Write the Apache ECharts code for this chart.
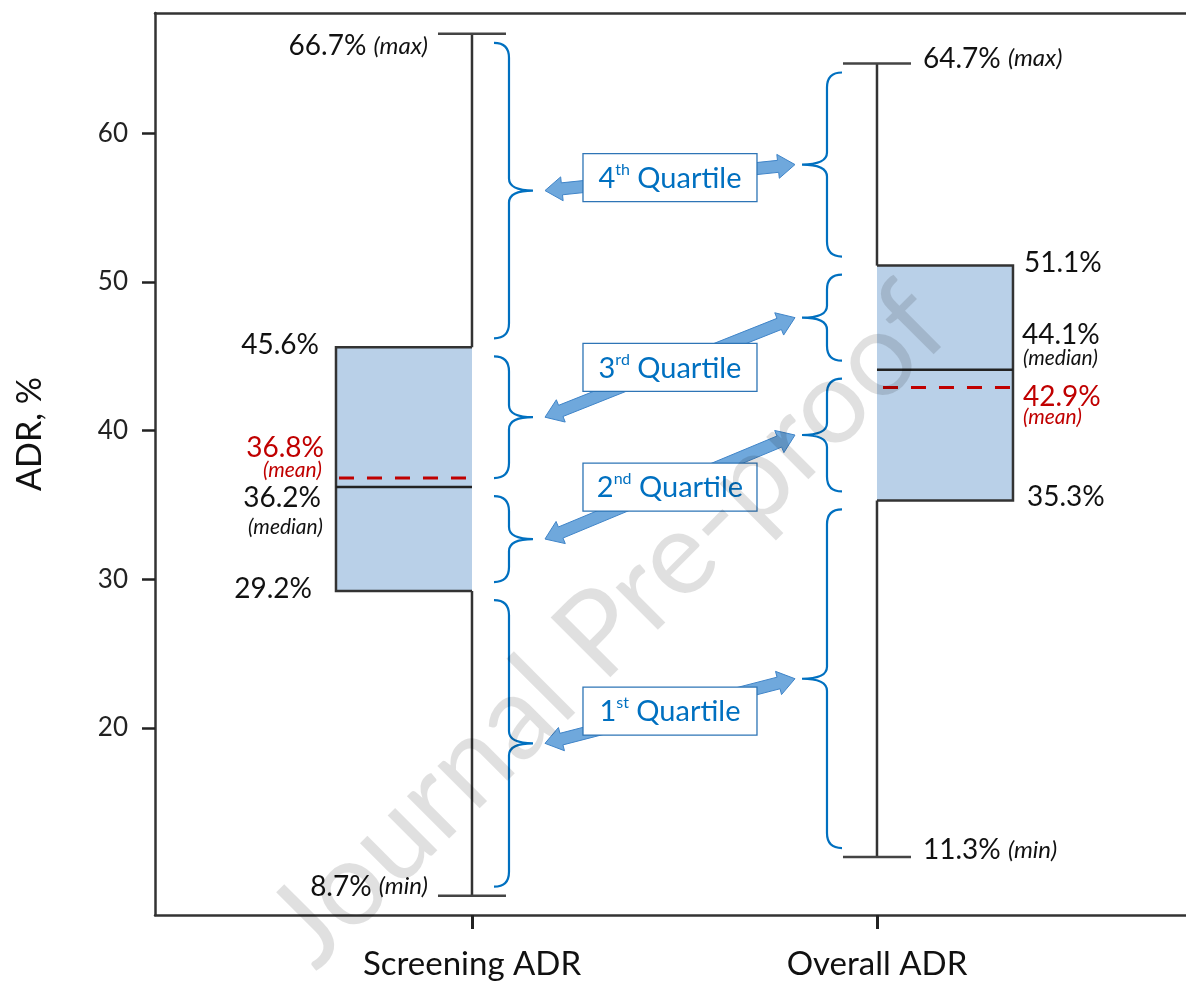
<!DOCTYPE html>
<html>
<head>
<meta charset="utf-8">
<title>ADR box plot</title>
<script src="https://cdn.jsdelivr.net/npm/echarts@6/dist/echarts.min.js"></script>
<style>
  html, body { margin: 0; padding: 0; background: #fff; }
  #chart { width: 1186px; height: 981px; }
</style>
</head>
<body>
<div id="chart"></div>
<script>
const categories = ['Screening ADR', 'Overall ADR'];
const minValues = [8.7, 11.3];
const q1Values = [29.2, 35.3];
const medianValues = [36.2, 44.1];
const q3Values = [45.6, 51.1];
const maxValues = [66.7, 64.7];
const meanValues = [36.8, 42.9];
const quartileNumbers = ['1', '2', '3', '4'];
const quartileSuffixes = ['st', 'nd', 'rd', 'th'];
const yTicks = [20, 30, 40, 50, 60];

const FONT = 'Lato, "Open Sans", sans-serif';
const BLUE = '#0070c0';
const RED = '#c00000';
const INK = '#111';
const pct = v => v.toFixed(1) + '%';

// [x, min, q1, median, q3, max, mean]
const boxData = categories.map((c, i) => [
    i + 1, minValues[i], q1Values[i], medianValues[i], q3Values[i], maxValues[i], meanValues[i]
]);

// [x, screening low, screening high, overall low, overall high, quartile index]
const bounds = i => [minValues[i], q1Values[i], medianValues[i], q3Values[i], maxValues[i]];
const quartileData = quartileNumbers.map((n, k) => [
    1.5, bounds(0)[k], bounds(0)[k + 1], bounds(1)[k], bounds(1)[k + 1], k
]);

function text(x, y, str, align, size, color, italic) {
    return {
        type: 'text', x: x, y: y,
        style: {
            text: str, fill: color || INK, fontSize: size, fontFamily: FONT,
            fontStyle: italic ? 'italic' : 'normal', align: align, verticalAlign: 'middle'
        }
    };
}

function extremeLabel(x, y, v, word, align) {
    return {
        type: 'text', x: x, y: y,
        style: {
            text: '{v|' + pct(v) + ' }{i|(' + word + ')}',
            align: align, verticalAlign: 'middle',
            rich: {
                v: { fontSize: 28, fontFamily: FONT, fill: INK },
                i: { fontSize: 24, fontFamily: FONT, fontStyle: 'italic', fill: INK }
            }
        }
    };
}

function renderBox(params, api) {
    const side = params.dataIndex === 0 ? -1 : 1;
    const x = api.value(0);
    const cx = api.coord([x, 0])[0];
    const y = idx => api.coord([x, api.value(idx)])[1];
    const yMin = y(1), yQ1 = y(2), yMed = y(3), yQ3 = y(4), yMax = y(5), yMean = y(6);
    const w = 136, cap = 34;
    const far = cx + side * w;
    const line = { stroke: '#333', lineWidth: 2.5, fill: 'none' };
    const seg = (x1, y1, x2, y2, st) => ({
        type: 'line', shape: { x1: x1, y1: y1, x2: x2, y2: y2 }, style: st || line
    });

    const children = [
        { type: 'rect', shape: { x: Math.min(cx, far), y: yQ3, width: w, height: yQ1 - yQ3 },
          style: { fill: '#b9d0e8', stroke: 'none' } },
        { type: 'polyline', shape: { points: [[cx, yQ3], [far, yQ3], [far, yQ1], [cx, yQ1]] },
          style: line },
        seg(cx, yMax, cx, yQ3),
        seg(cx, yQ1, cx, yMin),
        seg(cx - cap, yMax, cx + cap, yMax, { stroke: '#444', lineWidth: 2.5 }),
        seg(cx - cap, yMin, cx + cap, yMin, { stroke: '#444', lineWidth: 2.5 }),
        seg(far, yMed, cx, yMed, { stroke: '#222', lineWidth: 2.5 }),
        seg(far - side * 3, yMean, cx + side * 3, yMean,
            { stroke: RED, lineWidth: 3, lineDash: [15, 13] })
    ];

    if (side < 0) {
        children.push(
            extremeLabel(cx - 44, yMax + 12, api.value(5), 'max', 'right'),
            extremeLabel(cx - 44, yMin - 9, api.value(1), 'min', 'right'),
            text(far - 17, yQ3 - 2, pct(api.value(4)), 'right', 28),
            text(far - 12, yMean - 30, pct(api.value(6)), 'right', 28, RED),
            text(far - 14, yMean - 8, '(mean)', 'right', 21, RED, true),
            text(far - 15, yMed + 11, pct(api.value(3)), 'right', 28),
            text(far - 13, yMed + 40, '(median)', 'right', 21, INK, true),
            text(far - 24, yQ1 - 2, pct(api.value(2)), 'right', 28)
        );
    } else {
        children.push(
            extremeLabel(cx + 46, yMax - 5, api.value(5), 'max', 'left'),
            extremeLabel(cx + 46, yMin - 7, api.value(1), 'min', 'left'),
            text(far + 11, yQ3 - 3, pct(api.value(4)), 'left', 28),
            text(far + 9, yMed - 35, pct(api.value(3)), 'left', 28),
            text(far + 10, yMed - 11, '(median)', 'left', 21, INK, true),
            text(far + 10, yMean + 9, pct(api.value(6)), 'left', 28, RED),
            text(far + 10, yMean + 30, '(mean)', 'left', 21, RED, true),
            text(far + 14, yQ1 - 3, pct(api.value(2)), 'left', 28)
        );
    }
    return { type: 'group', children: children };
}

function bracePath(hx, vx, tx, y1, y2) {
    const ym = (y1 + y2) / 2;
    const r = Math.min(15, (y2 - y1) / 4);
    const r2 = Math.min(12, (y2 - y1) / 4);
    return 'M' + hx + ',' + y1 +
        ' Q' + vx + ',' + y1 + ' ' + vx + ',' + (y1 + r) +
        ' L' + vx + ',' + (ym - r2) +
        ' Q' + vx + ',' + ym + ' ' + tx + ',' + ym +
        ' Q' + vx + ',' + ym + ' ' + vx + ',' + (ym + r2) +
        ' L' + vx + ',' + (y2 - r) +
        ' Q' + vx + ',' + y2 + ' ' + hx + ',' + y2;
}

function arrowPoints(p1, p2) {
    const dx = p2[0] - p1[0], dy = p2[1] - p1[1];
    const len = Math.sqrt(dx * dx + dy * dy);
    const ux = dx / len, uy = dy / len, nx = -uy, ny = ux;
    const a = 6, b = 12, h = 17;
    const at = (p, s, t) => [p[0] + ux * s + nx * t, p[1] + uy * s + ny * t];
    return [
        p1, at(p1, h, b), at(p1, h, a), at(p2, -h, a), at(p2, -h, b),
        p2, at(p2, -h, -b), at(p2, -h, -a), at(p1, h, -a), at(p1, h, -b)
    ];
}

function renderQuartile(params, api) {
    const k = api.value(5);
    const cx0 = api.coord([1, 0])[0], cx1 = api.coord([2, 0])[0];
    const yy = v => api.coord([1, v])[1];
    const gap = 9;
    const sTop = yy(api.value(2)) + gap, sBot = yy(api.value(1)) - gap;
    const oTop = yy(api.value(4)) + gap, oBot = yy(api.value(3)) - gap;
    const braceStyle = { stroke: BLUE, lineWidth: 2.2, fill: 'none' };
    const p1 = [cx0 + 73, (sTop + sBot) / 2];
    const p2 = [cx1 - 82, (oTop + oBot) / 2];
    const mx = (p1[0] + p2[0]) / 2, my = (p1[1] + p2[1]) / 2;
    const bw = 174, bh = 48;
    return {
        type: 'group',
        children: [
            { type: 'path', shape: { pathData: bracePath(cx0 + 22, cx0 + 37, cx0 + 61, sTop, sBot) },
              style: braceStyle },
            { type: 'path', shape: { pathData: bracePath(cx1 - 35, cx1 - 50, cx1 - 75, oTop, oBot) },
              style: braceStyle },
            { type: 'polygon', shape: { points: arrowPoints(p1, p2) },
              style: { fill: '#6fa8dc', stroke: '#3f84c8', lineWidth: 1 } },
            { type: 'rect', shape: { x: mx - bw / 2, y: my - bh / 2, width: bw, height: bh },
              style: { fill: '#fff', stroke: '#2e75b6', lineWidth: 1.3 } },
            { type: 'text', x: mx, y: my + 1,
              style: {
                  text: '{n|' + quartileNumbers[k] + '}{s|' + quartileSuffixes[k] + '}{q| Quartile}',
                  align: 'center', verticalAlign: 'middle',
                  rich: {
                      n: { fontSize: 29, fontFamily: FONT, fill: BLUE, lineHeight: 34 },
                      s: { fontSize: 16, fontFamily: FONT, fill: BLUE, lineHeight: 18, verticalAlign: 'top' },
                      q: { fontSize: 29, fontFamily: FONT, fill: BLUE, lineHeight: 34 }
                  }
              } }
        ]
    };
}

const chart = echarts.init(document.getElementById('chart'));

const option = {
    animation: false,
    grid: { left: 155, right: 0, top: 13, bottom: 66, containLabel: false, outerBoundsMode: 'none' },
    xAxis: [{
        type: 'value',
        min: 0.2173,
        max: 2.763,
        axisLine: { lineStyle: { color: '#333', width: 2.5 } },
        axisTick: { customValues: [1, 2], length: 14, lineStyle: { color: '#222', width: 3 } },
        axisLabel: {
            customValues: [1, 2],
            formatter: v => categories[Math.round(v) - 1],
            margin: 33, fontSize: 33, fontFamily: FONT, color: INK
        },
        splitLine: { show: false }
    }, {
        type: 'value',
        position: 'top',
        min: 0.2173,
        max: 2.763,
        axisLine: { show: true, lineStyle: { color: '#333', width: 2.5 } },
        axisTick: { show: false },
        axisLabel: { show: false },
        splitLine: { show: false }
    }],
    yAxis: {
        type: 'value',
        min: 7.4,
        max: 68.1,
        name: 'ADR, %',
        nameLocation: 'middle',
        nameGap: 108,
        nameTextStyle: { fontSize: 34, fontFamily: FONT, color: INK, padding: [0, 0, 0, 60] },
        axisLine: { show: true, lineStyle: { color: '#333', width: 2.5 } },
        axisTick: { show: true, customValues: yTicks, length: 13, lineStyle: { color: '#222', width: 2.5 } },
        axisLabel: { customValues: yTicks, margin: 27, fontSize: 26, fontFamily: FONT, color: '#222' },
        splitLine: { show: false }
    },
    series: [{
        type: 'custom',
        name: 'boxes',
        renderItem: renderBox,
        data: boxData,
        z: 3
    }, {
        type: 'custom',
        name: 'quartiles',
        renderItem: renderQuartile,
        data: quartileData,
        z: 4
    }],
    graphic: [{
        type: 'text',
        x: 608,
        y: 626,
        rotation: 45 * Math.PI / 180,
        z: 100,
        silent: true,
        style: {
            text: 'Journal Pre-proof',
            fontSize: 118,
            fontFamily: FONT,
            fill: 'rgba(0,0,0,0.12)',
            align: 'center',
            verticalAlign: 'middle'
        }
    }]
};

chart.setOption(option);
</script>
</body>
</html>
